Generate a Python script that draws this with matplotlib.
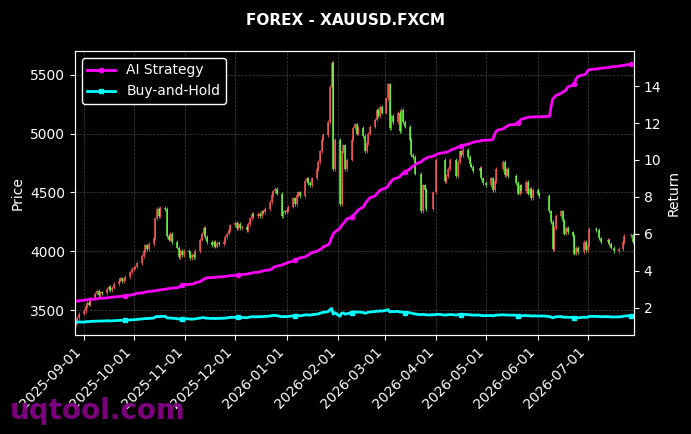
import numpy as np
import pandas as pd
import matplotlib
matplotlib.use("Agg")
import matplotlib.pyplot as plt
import matplotlib.dates as mdates

nan = np.nan

# daily closes (business days from 2025-08-27), grouped by month
close_prices = [
    # Aug
    3400, 3430, 3470,
    # Sep
    3490, 3530, 3560, 3545, 3600, 3640, 3660, 3630, 3650, 3645,
    3680, 3700, 3670, 3690, 3720, 3750, 3770, 3745, 3760, 3780,
    3820, 3850,
    # Oct
    3860, 3870, 3900, 3960, 4000, 4050, 4020, 4060, 4110, 4280,
    4360, 4300, 4370, 4360, 4130, 4100, 4150, 4080, 4030, 3950,
    4000, 3970, 4000,
    # Nov
    3990, 3940, 3970, 3950, 4000, 4100, 4150, 4200, 4120, 4080,
    4050, 4080, 4040, 4070, 4060, 4080, 4120, 4150, 4180, 4220,
    # Dec
    4240, 4200, 4230, 4200, 4210, 4180, 4230, 4280, 4320, 4300,
    4320, 4300, 4340, 4330, 4360, 4420, 4480, 4510, 4530, 4490,
    4300, 4340, 4330,
    # Jan
    4350, 4380, 4450, 4400, 4480, 4500, 4470, 4600, 4620, 4580,
    4560, 4620, 4700, 4760, 4850, 4950, 4990, 5100, 5400, 5600,
    4700, 4950,
    # Feb
    4400, 4850, 4900, 4700, 4780, 4950, 5050, 5080, 5000, 5050,
    4980, 4850, 4920, 5000, 5060, 5120, 5200, 5150, 5230, 5180,
    # Mar
    5300, 5420, 5050, 5150, 5100, 5180, 5020, 5200, 5100, 5060,
    4950, 4820, 4800, 4660, nan, 4340, 4560, 4520, 4360, nan,
    4500, nan,
    # Apr
    4780, nan, nan, 4600, 4640, 4700, 4780, nan, 4640, 4760,
    4850, 4820, 4860, 4800, 4740, 4720, 4680, nan, 4710, 4620,
    4580, nan,
    # May
    4560, 4620, 4520, 4600, 4700, nan, 4760, 4650, 4700, 4640,
    nan, nan, 4580, 4490, 4560, 4510, 4590, 4490, 4530, 4450,
    4520,
    # Jun
    4490, 4470, nan, nan, nan, 4340, 4250, 4020, 4200, 4300,
    4340, 4260, 4150, 4200, 4160, 4130, 3980, 4030, 3990, nan,
    4080, 4010,
    # Jul
    4050, 4190, nan, 4180, nan, 4110, 4080, nan, 4100, 4060,
    4030, nan, 4000, 4020, nan, 4080, 4130, nan, 4140, 4080,
]
first_open = 3380

ai_strategy = [
    2.35, 2.36, 2.38,
    2.40, 2.42, 2.43, 2.45, 2.46, 2.47, 2.48, 2.50, 2.51, 2.52,
    2.53, 2.55, 2.56, 2.57, 2.58, 2.60, 2.61, 2.62, 2.64, 2.66,
    2.68, 2.70,
    2.72, 2.75, 2.78, 2.80, 2.82, 2.85, 2.86, 2.88, 2.90, 2.92,
    2.94, 2.95, 2.97, 3.00, 3.02, 3.03, 3.05, 3.06, 3.08, 3.10,
    3.18, 3.24, 3.26,
    3.25, 3.28, 3.27, 3.30, 3.35, 3.42, 3.48, 3.53, 3.58, 3.62,
    3.63, 3.64, 3.65, 3.66, 3.67, 3.68, 3.70, 3.71, 3.72, 3.73,
    3.75, 3.76, 3.78, 3.79, 3.80, 3.82, 3.84, 3.86, 3.88, 3.90,
    3.92, 3.95, 3.97, 4.00, 4.02, 4.05, 4.10, 4.18, 4.22, 4.25,
    4.30, 4.35, 4.38,
    4.42, 4.46, 4.53, 4.58, 4.62, 4.66, 4.70, 4.75, 4.80, 4.86,
    4.92, 4.98, 5.05, 5.10, 5.15, 5.20, 5.30, 5.40, 5.55, 5.80,
    6.00, 6.10,
    6.30, 6.45, 6.55, 6.65, 6.80, 6.90, 7.00, 7.08, 7.18, 7.30,
    7.45, 7.60, 7.75, 7.85, 7.95, 8.05, 8.15, 8.25, 8.35, 8.40,
    8.50, 8.60, 8.75, 8.85, 8.95, 9.05, 9.10, 9.20, 9.30, 9.35,
    9.50, 9.60, 9.65, 9.72, 9.80, 9.90, 10.00, 10.05, 10.10, 10.15,
    10.20, 10.25,
    10.30, 10.33, 10.36, 10.40, 10.42, 10.45, 10.50, 10.55, 10.65, 10.70,
    10.72, 10.75, 10.80, 10.85, 10.88, 10.92, 10.95, 10.98, 11.02, 11.05,
    11.06, 11.07,
    11.07, 11.08, 11.12, 11.40, 11.55, 11.62, 11.68, 11.74, 11.80, 11.86,
    11.90, 11.92, 11.96, 12.02, 12.10, 12.20, 12.28, 12.30, 12.32, 12.33,
    12.33,
    12.34, 12.34, 12.34, 12.35, 12.35, 12.36, 12.90, 13.30, 13.40, 13.50,
    13.60, 13.68, 13.72, 13.80, 13.95, 14.05, 14.10, 14.40, 14.50, 14.55,
    14.62, 14.68,
    14.85, 14.88, 14.90, 14.92, 14.94, 14.95, 14.97, 14.98, 15.00, 15.02,
    15.04, 15.05, 15.06, 15.08, 15.10, 15.12, 15.13, 15.15, 15.17, 15.19,
]

buy_and_hold = [
    1.21, 1.22, 1.23,
    1.22, 1.24, 1.25, 1.24, 1.26, 1.27, 1.28, 1.27, 1.28, 1.28,
    1.29, 1.30, 1.28, 1.29, 1.30, 1.31, 1.32, 1.31, 1.32, 1.32,
    1.34, 1.35,
    1.35, 1.35, 1.37, 1.39, 1.40, 1.42, 1.41, 1.42, 1.44, 1.50,
    1.53, 1.51, 1.53, 1.53, 1.45, 1.44, 1.45, 1.43, 1.41, 1.38,
    1.40, 1.39, 1.40,
    1.40, 1.38, 1.39, 1.38, 1.40, 1.44, 1.45, 1.47, 1.44, 1.43,
    1.42, 1.43, 1.41, 1.42, 1.42, 1.43, 1.44, 1.45, 1.46, 1.48,
    1.48, 1.47, 1.48, 1.47, 1.47, 1.46, 1.48, 1.50, 1.51, 1.51,
    1.51, 1.51, 1.52, 1.52, 1.53, 1.55, 1.57, 1.58, 1.59, 1.57,
    1.51, 1.52, 1.52,
    1.52, 1.53, 1.56, 1.54, 1.57, 1.58, 1.56, 1.61, 1.62, 1.60,
    1.60, 1.62, 1.65, 1.67, 1.70, 1.73, 1.75, 1.79, 1.89, 1.96,
    1.65, 1.73,
    1.54, 1.70, 1.72, 1.65, 1.67, 1.73, 1.77, 1.78, 1.75, 1.77,
    1.74, 1.70, 1.72, 1.75, 1.77, 1.79, 1.82, 1.80, 1.83, 1.81,
    1.86, 1.90, 1.77, 1.80, 1.79, 1.80, 1.76, 1.78, 1.75, 1.74,
    1.73, 1.70, 1.69, 1.66, 1.65, 1.62, 1.64, 1.63, 1.61, 1.61,
    1.62, 1.62,
    1.64, 1.64, 1.64, 1.60, 1.61, 1.62, 1.63, 1.63, 1.60, 1.62,
    1.64, 1.63, 1.64, 1.63, 1.61, 1.61, 1.60, 1.60, 1.60, 1.58,
    1.57, 1.57,
    1.57, 1.58, 1.56, 1.58, 1.60, 1.60, 1.62, 1.60, 1.61, 1.60,
    1.60, 1.60, 1.58, 1.56, 1.57, 1.56, 1.58, 1.56, 1.57, 1.55,
    1.56,
    1.55, 1.55, 1.55, 1.55, 1.55, 1.52, 1.50, 1.45, 1.49, 1.51,
    1.52, 1.50, 1.48, 1.49, 1.48, 1.48, 1.45, 1.47, 1.46, 1.46,
    1.49, 1.48,
    1.49, 1.53, 1.53, 1.53, 1.53, 1.52, 1.51, 1.51, 1.52, 1.51,
    1.50, 1.50, 1.50, 1.51, 1.51, 1.53, 1.55, 1.55, 1.57, 1.58,
]

UP = "#ff5a5a"
DOWN = "#66ff3c"
AI_COLOR = "#ff00ff"
BH_COLOR = "#00ffff"

dates = pd.bdate_range("2025-08-27", periods=len(close_prices))
close = pd.Series(close_prices, index=dates, dtype=float)
opens = close.ffill().shift(1)
opens.iloc[0] = first_open
line_dates = pd.bdate_range("2025-08-27", periods=len(ai_strategy))

fig = plt.figure(figsize=(6.91, 4.34), dpi=100, facecolor="black")
ax1 = fig.add_axes([0.1085, 0.228, 0.809, 0.6545])
ax1.set_facecolor("black")

valid = close.notna()
up = valid & (close >= opens)
down = valid & (close < opens)
for mask, col in [(up, UP), (down, DOWN)]:
    lo = np.minimum(opens[mask], close[mask])
    hi = np.maximum(opens[mask], close[mask])
    # thin wick + body
    ax1.vlines(close.index[mask], lo - 15, hi + 15, colors=col, linewidth=0.6, alpha=0.9)
    ax1.vlines(close.index[mask], lo, hi, colors=col, linewidth=1.2, alpha=0.9)

ax1.set_ylim(3287, 5704)
ax1.set_xlim(pd.Timestamp("2025-08-26 16:00"), pd.Timestamp("2026-07-28 20:00"))
ax1.set_ylabel("Price", color="white", fontsize=10)
ax1.grid(True, color="#888888", linestyle="--", linewidth=0.5, alpha=0.5)

ax1.xaxis.set_major_locator(mdates.MonthLocator())
ax1.xaxis.set_major_formatter(mdates.DateFormatter("%Y-%m-%d"))
plt.setp(ax1.get_xticklabels(), rotation=45, ha="right")

ax2 = ax1.twinx()
ax2.plot(line_dates, ai_strategy, color=AI_COLOR, lw=2, marker="o", markersize=3,
         markevery=(22, 24), label="AI Strategy")
ax2.plot(line_dates, buy_and_hold, color=BH_COLOR, lw=2, marker="s", markersize=3,
         markevery=(22, 24), label="Buy-and-Hold")
ax2.set_ylim(0.52, 15.9)
ax2.set_ylabel("Return", color="white", fontsize=10)

for ax in (ax1, ax2):
    ax.tick_params(colors="white", labelsize=10)
    for sp in ax.spines.values():
        sp.set_color("white")

leg = ax2.legend(loc="upper left", facecolor="black", edgecolor="white",
                 fontsize=10, framealpha=1)
for t in leg.get_texts():
    t.set_color("white")

fig.suptitle("FOREX - XAUUSD.FXCM", color="white", fontsize=11, fontweight="bold", y=0.97)
fig.text(0.014, 0.035, "uqtool.com", color="#8b008b", fontsize=20, fontweight="bold",
         alpha=0.9)

fig.savefig("out.png", dpi=100, facecolor="black")
